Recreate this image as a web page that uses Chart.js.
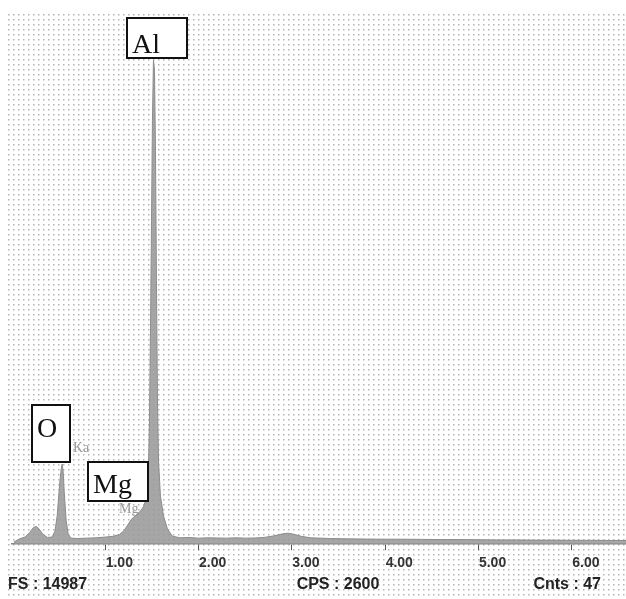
<!DOCTYPE html>
<html>
<head>
<meta charset="utf-8">
<script src="https://cdn.jsdelivr.net/npm/chart.js@4.4.1/dist/chart.umd.min.js"></script>
<style>
  html, body { margin: 0; padding: 0; background: #fff; }
  #wrap { width: 626px; height: 599px; }
</style>
</head>
<body>
<div id="wrap"><canvas id="edsChart" width="626" height="599"></canvas></div>
<script>
// energy (keV) and counts
const energy = [
  0.02, 0.08, 0.14, 0.19, 0.23, 0.26, 0.29, 0.33, 0.38, 0.43,
  0.46, 0.484, 0.505, 0.516, 0.527, 0.538, 0.548, 0.559, 0.581, 0.602,
  0.634, 0.70, 0.80, 0.90, 1.00, 1.08, 1.15, 1.20, 1.24, 1.28,
  1.33, 1.376, 1.409, 1.441, 1.462, 1.473, 1.484, 1.495, 1.505, 1.516,
  1.527, 1.538, 1.548, 1.559, 1.570, 1.591, 1.624, 1.667, 1.72, 1.80,
  1.90, 2.00, 2.10, 2.20, 2.30, 2.40, 2.50, 2.60, 2.70, 2.80,
  2.90, 2.96, 3.02, 3.10, 3.20, 3.40, 3.60, 3.80, 4.00, 4.20,
  4.40, 4.60, 4.80, 5.00, 5.20, 5.40, 5.60, 5.80, 6.00, 6.20,
  6.40, 6.58
];
const counts = [
  60, 150, 200, 330, 470, 500, 430, 280, 190, 200,
  365, 790, 1490, 1830, 2110, 2250, 2050, 1490, 650, 280,
  170, 160, 170, 180, 200, 220, 270, 380, 540, 700,
  820, 930, 1050, 1300, 2050, 3460, 5990, 9090, 11900, 13590,
  13310, 11060, 7400, 4020, 2340, 1350, 790, 420, 225, 180,
  190, 170, 180, 175, 170, 180, 170, 175, 190, 230,
  290, 310, 280, 220, 180, 160, 150, 145, 140, 140,
  135, 130, 130, 125, 120, 120, 115, 115, 110, 110,
  105, 105
];
const xTicks = [1, 2, 3, 4, 5, 6];
const peakLabels = ['O', 'Mg', 'Al'];
const lineLabels = ['Ka', 'Mg'];
const footer = ['FS : 14987', 'CPS : 2600', 'Cnts : 47'];

// dotted background like the instrument printout
const dotGrid = {
  id: 'dotGrid',
  beforeDraw(chart) {
    const c = chart.ctx;
    c.save();
    c.fillStyle = '#fff';
    c.fillRect(0, 0, chart.width, chart.height);
    c.fillStyle = '#b4b4b4';
    for (let y = 14; y < chart.height - 3; y += 5) {
      for (let x = 8; x < chart.width - 2; x += 5) {
        c.fillRect(x, y, 1.5, 1.5);
      }
    }
    c.restore();
  }
};

// small gray line names, drawn under the spectrum
const lineNames = {
  id: 'lineNames',
  beforeDatasetsDraw(chart) {
    const c = chart.ctx;
    c.save();
    c.fillStyle = '#9a9a9a';
    c.font = '14px "Liberation Serif"';
    c.textBaseline = 'middle';
    c.fillText(lineLabels[0], 73, 448);
    c.fillText(lineLabels[1], 119, 509);
    c.restore();
  }
};

// boxed element labels and footer text
const boxes = {
  id: 'boxes',
  afterDraw(chart) {
    const c = chart.ctx;
    c.save();
    const drawBox = (txt, x, y, w, h, ty) => {
      c.fillStyle = '#fff';
      c.fillRect(x, y, w, h);
      c.strokeStyle = '#111';
      c.lineWidth = 2;
      c.strokeRect(x, y, w, h);
      c.fillStyle = '#111';
      c.font = '28px "Liberation Serif"';
      c.textBaseline = 'alphabetic';
      c.textAlign = 'left';
      c.fillText(txt, x + 5, ty);
    };
    drawBox(peakLabels[0], 32, 405, 38, 57, 437);
    drawBox(peakLabels[1], 88, 462, 60, 39, 493);
    drawBox(peakLabels[2], 127, 18, 60, 40, 53);

    c.fillStyle = '#222';
    c.font = 'bold 16px "Liberation Sans"';
    c.textBaseline = 'middle';
    c.textAlign = 'left';
    c.fillText(footer[0], 8, 585);
    c.textAlign = 'center';
    c.fillText(footer[1], 338, 585);
    c.textAlign = 'right';
    c.fillText(footer[2], 601, 585);
    c.restore();
  }
};

new Chart(document.getElementById('edsChart'), {
  type: 'line',
  data: {
    datasets: [{
      data: energy.map((e, i) => ({ x: e, y: counts[i] })),
      borderColor: '#8c8c8c',
      backgroundColor: 'rgba(150,150,150,0.85)',
      borderWidth: 1,
      pointRadius: 0,
      fill: 'origin',
      tension: 0
    }]
  },
  options: {
    responsive: false,
    animation: false,
    layout: { padding: { left: 12, right: 0, top: 10, bottom: 22 } },
    plugins: {
      legend: { display: false },
      tooltip: { enabled: false }
    },
    scales: {
      x: {
        type: 'linear',
        min: 0,
        max: 6.58,
        afterBuildTicks: axis => { axis.ticks = xTicks.map(v => ({ value: v })); },
        border: { display: true, color: '#8a8a8a', width: 1.5 },
        grid: { drawOnChartArea: false, drawTicks: true, tickLength: 6, color: '#555' },
        ticks: {
          labelOffset: 14,
          padding: 5,
          color: '#333',
          font: { family: '"Liberation Sans"', size: 14, weight: 'bold' },
          callback: v => v.toFixed(2),
          maxRotation: 0
        }
      },
      y: {
        display: false,
        min: 0,
        max: 15000
      }
    }
  },
  plugins: [dotGrid, lineNames, boxes]
});
</script>
</body>
</html>
